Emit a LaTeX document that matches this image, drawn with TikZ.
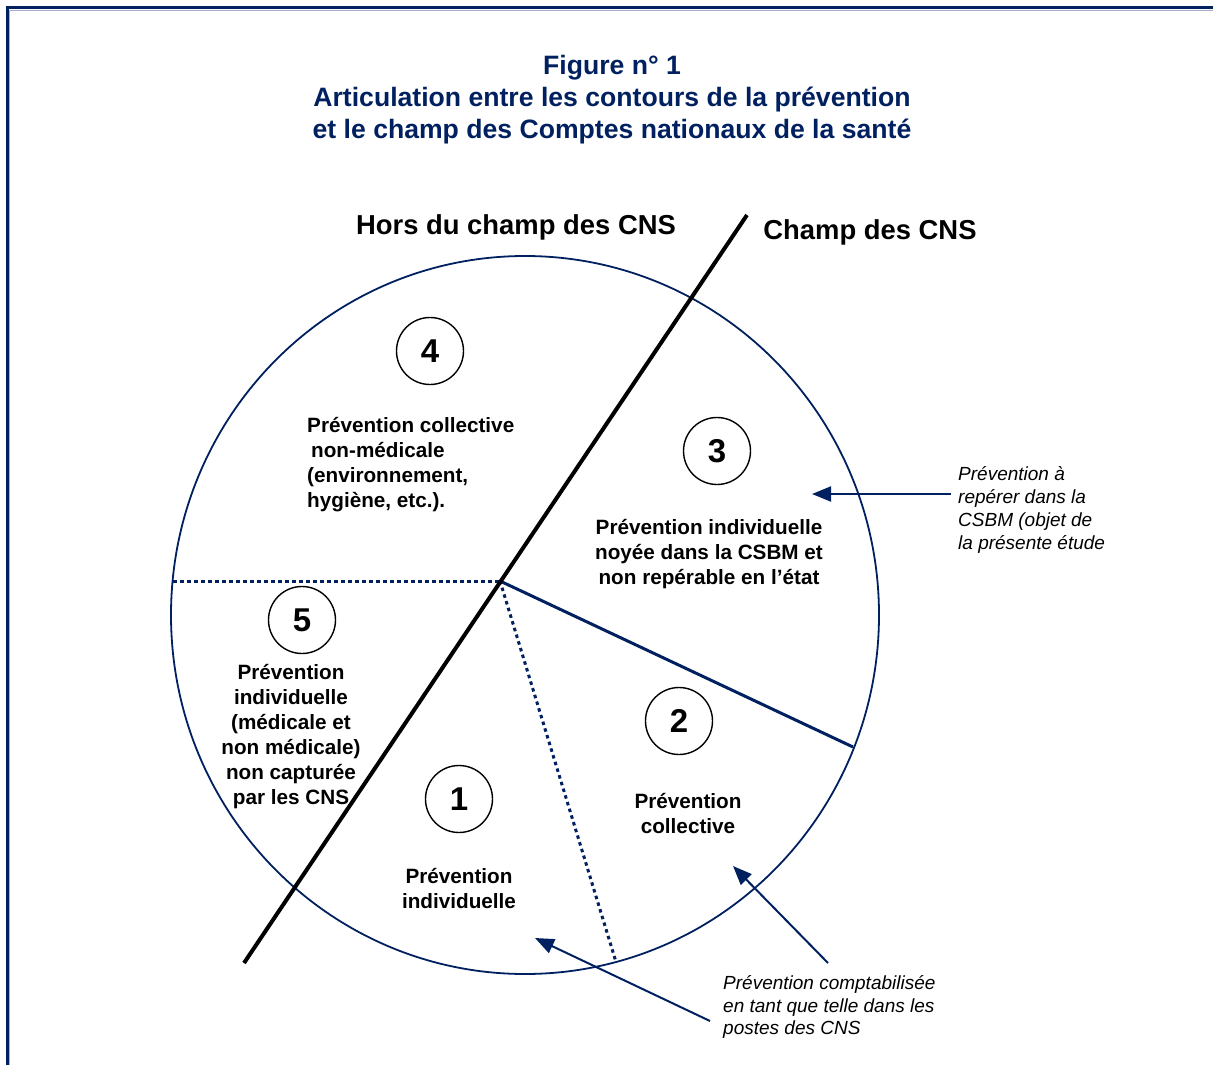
\documentclass[tikz,border=0pt]{standalone}
\usepackage{fontspec}
\setmainfont{Liberation Sans}
\usetikzlibrary{arrows.meta}
\definecolor{navy}{RGB}{0,32,96}
\begin{document}
\begin{tikzpicture}[x=1pt,y=-1pt,
  numcircle/.style={circle,draw=black,line width=1.4pt,minimum size=67pt,inner sep=0pt,font=\bfseries\fontsize{33}{36}\selectfont},
  zonelabel/.style={align=center,inner sep=0pt,font=\bfseries\fontsize{20.7}{25}\selectfont},
  note/.style={align=left,inner sep=0pt,anchor=west,font=\itshape\fontsize{19}{22.8}\selectfont},
  pointer/.style={draw=navy,line width=2pt,-{Triangle[length=19pt,width=15pt]}},
  dotline/.style={draw=navy,line width=3pt,dash pattern=on 3.5pt off 3.5pt}]
\useasboundingbox (0,0) rectangle (1213,1065);
% frame
\draw[navy,line width=3pt] (7,1066) -- (7,8) -- (1214,8);
\draw[navy!35,line width=1pt] (9.5,1066) -- (9.5,10.5) -- (1214,10.5);
% title
\node[align=center,text=navy,inner sep=0pt,font=\bfseries\fontsize{26.6}{32}\selectfont] (title) at (612,100)
  {Figure n° 1\\Articulation entre les contours de la prévention\\et le champ des Comptes nationaux de la santé};
\node[inner sep=0pt,font=\bfseries\fontsize{27.4}{30}\selectfont] (hors) at (516,227) {Hors du champ des CNS};
\node[inner sep=0pt,font=\bfseries\fontsize{27.4}{30}\selectfont] (champ) at (870,232) {Champ des CNS};
% geometry
\coordinate (c) at (525,615);
\coordinate (m) at (500,581);
\coordinate (l) at (173,581);
\coordinate (r) at (853,747);
\coordinate (b) at (616,962);
\coordinate (t1) at (244,963);
\coordinate (t2) at (747,215);
\draw[navy,line width=1.8pt] (c) ellipse[x radius=354,y radius=359];
\draw[dotline] (l) -- (m);
\draw[dotline] (m) -- (b);
\draw[navy,line width=3pt] (m) -- (r);
\draw[black,line width=4pt] (t1) -- (t2);
% numbers
\node[numcircle] (n4) at (430,351) {4};
\node[numcircle] (n3) at (717,451) {3};
\node[numcircle] (n5) at (302,620) {5};
\node[numcircle] (n2) at (679,721) {2};
\node[numcircle] (n1) at (459,799) {1};
% zone labels
\node[zonelabel,align=left,anchor=west] (z4) at (307,465)
  {Prévention collective\\\hspace*{4pt}non-médicale\\(environnement,\\hygiène, etc.).};
\node[zonelabel] (z3) at (709,554) {Prévention individuelle\\noyée dans la CSBM et\\non repérable en l’état};
\node[zonelabel] (z5) at (291,737) {Prévention\\individuelle\\(médicale et\\non médicale)\\non capturée\\par les CNS};
\node[zonelabel] (z2) at (688,814) {Prévention\\collective};
\node[zonelabel] (z1) at (459,889) {Prévention\\individuelle};
% notes
\node[note] (a1) at (958,510) {Prévention à\\repérer dans la\\CSBM (objet de\\la présente étude};
\node[note] (a2) at (723,1007) {Prévention comptabilisée\\en tant que telle dans les\\postes des CNS};
\coordinate (p1s) at (951,494);
\coordinate (p1e) at (812,494);
\coordinate (p2s) at (828,963);
\coordinate (p2e) at (733,866);
\coordinate (p3s) at (710,1021);
\coordinate (p3e) at (535,938);
\draw[pointer] (p1s) -- (p1e);
\draw[pointer] (p2s) -- (p2e);
\draw[pointer] (p3s) -- (p3e);
\end{tikzpicture}
\end{document}
